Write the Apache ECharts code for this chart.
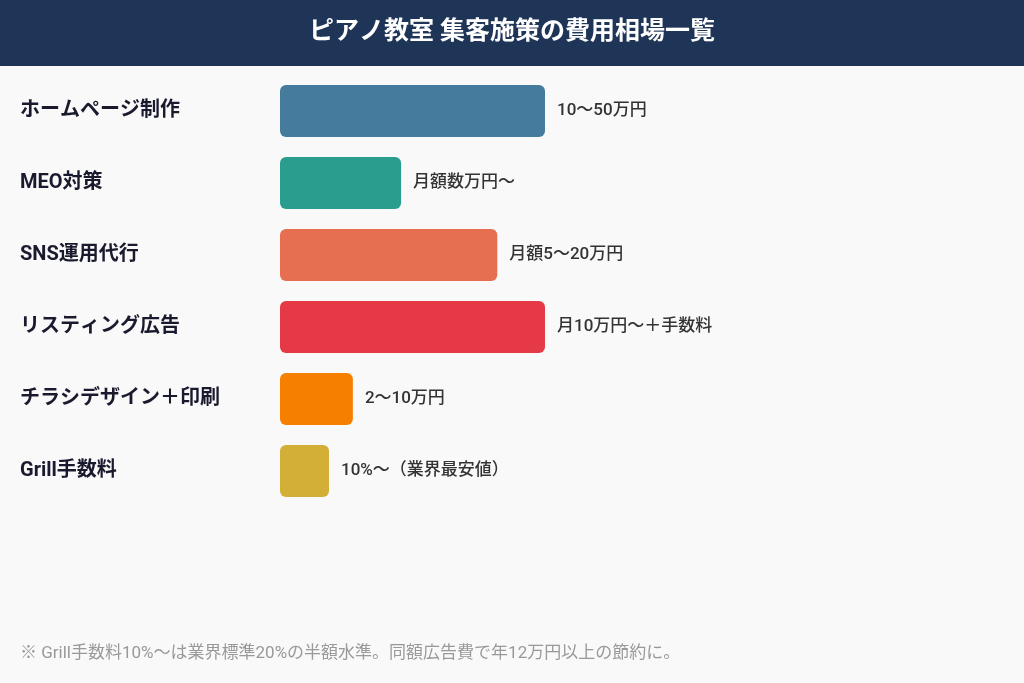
<!DOCTYPE html>
<html>
<head>
<meta charset="utf-8">
<script src="https://cdn.jsdelivr.net/npm/echarts@6/dist/echarts.min.js"></script>
<style>
  html, body { margin: 0; padding: 0; background: #f9f9f9; }
  #chart { width: 1024px; height: 683px; }
</style>
</head>
<body>
<div id="chart"></div>
<script>
// Chart data
const categories = ['ホームページ制作', 'MEO対策', 'SNS運用代行', 'リスティング広告', 'チラシデザイン＋印刷', 'Grill手数料'];
const barValues = [100, 45.7, 82, 100, 27.5, 18.5];
const costLabels = ['10〜50万円', '月額数万円〜', '月額5〜20万円', '月10万円〜＋手数料', '2〜10万円', '10%〜（業界最安値）'];
const barColors = ['#457b9d', '#2a9d8f', '#e76f51', '#e63946', '#f77f00', '#d4af37'];
const titleText = 'ピアノ教室 集客施策の費用相場一覧';
const noteText = '※ Grill手数料10%〜は業界標準20%の半額水準。同額広告費で年12万円以上の節約に。';

const FONT = 'Roboto, "Noto Sans CJK JP", sans-serif';

function jsMain() {
  const chart = echarts.init(document.getElementById('chart'));

  const option = {
    backgroundColor: '#f9f9f9',
    animation: false,
    graphic: [
      {
        type: 'rect',
        left: 0, top: 0,
        shape: { width: 1024, height: 66 },
        style: { fill: '#1e3557' },
        z: 0
      },
      {
        type: 'text',
        x: 512, y: 33,
        style: {
          text: titleText, fill: '#fff', font: 'bold 25px ' + FONT,
          align: 'center', verticalAlign: 'middle'
        },
        z: 1
      },
      {
        type: 'text',
        x: 20, y: 654,
        style: {
          text: noteText, fill: '#999', font: '17px ' + FONT,
          verticalAlign: 'middle'
        },
        z: 1
      }
    ],
    grid: {
      left: 280,
      top: 75,
      width: 265,
      height: 432
    },
    xAxis: {
      type: 'value',
      min: 0,
      max: 100,
      show: false
    },
    yAxis: {
      type: 'category',
      inverse: true,
      data: categories,
      axisLine: { show: false },
      axisTick: { show: false },
      axisLabel: {
        align: 'left',
        margin: 260,
        color: '#1a1a2e',
        fontSize: 20,
        fontWeight: 'bold',
        fontFamily: FONT
      }
    },
    series: [{
      type: 'bar',
      barWidth: 52,
      data: barValues.map((v, i) => ({
        value: v,
        itemStyle: { color: barColors[i], borderRadius: 6 },
        label: { formatter: costLabels[i] }
      })),
      label: {
        show: true,
        position: 'right',
        distance: 12,
        color: '#333',
        fontSize: 17,
        fontWeight: 500,
        fontFamily: FONT
      }
    }]
  };

  chart.setOption(option);
}

jsMain();
</script>
</body>
</html>
